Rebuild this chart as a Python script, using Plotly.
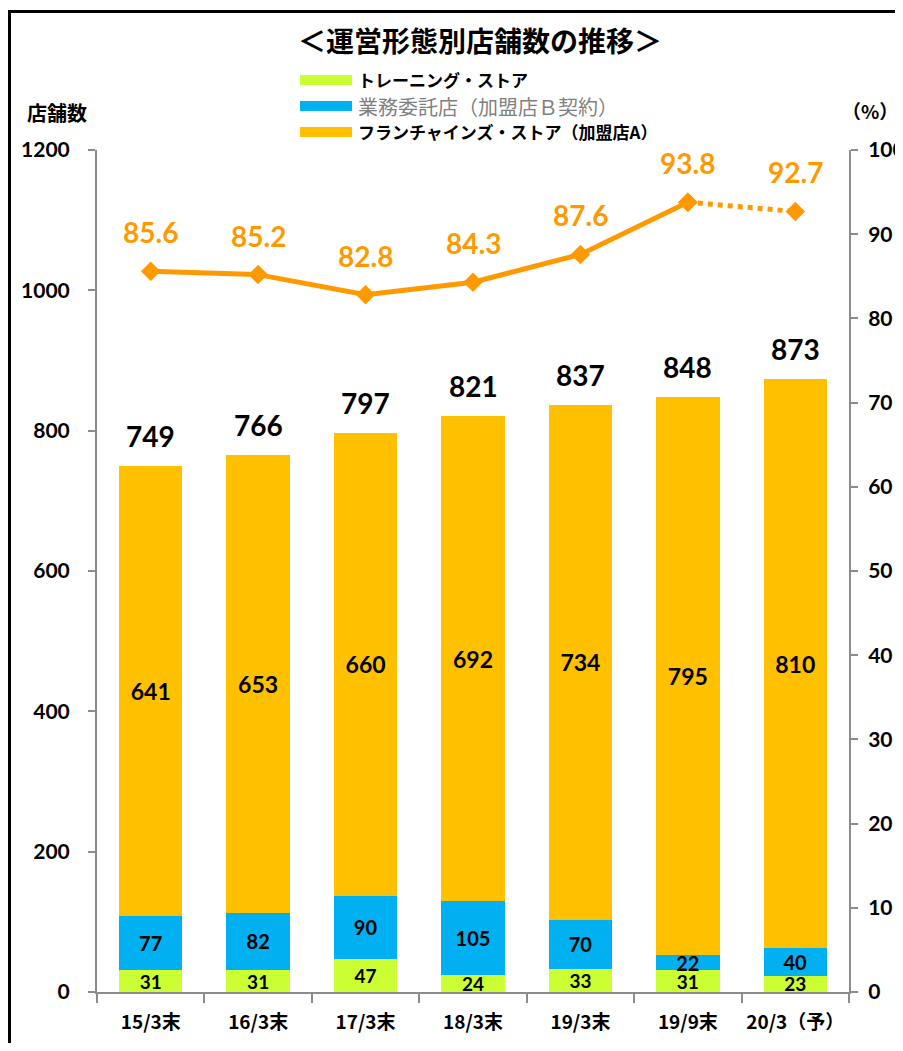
import plotly.graph_objects as go

categories = ["15/3末", "16/3末", "17/3末", "18/3末", "19/3末", "19/9末", "20/3（予）"]
training = [31, 31, 47, 24, 33, 31, 23]
consign = [77, 82, 90, 105, 70, 22, 40]
franchise = [641, 653, 660, 692, 734, 795, 810]
totals = [749, 766, 797, 821, 837, 848, 873]
ratio = [85.6, 85.2, 82.8, 84.3, 87.6, 93.8, 92.7]
ratio_labels = ["85.6", "85.2", "82.8", "84.3", "87.6", "93.8", "92.7"]
y_ticks = [0, 200, 400, 600, 800, 1000, 1200]
y2_ticks = [0, 10, 20, 30, 40, 50, 60, 70, 80, 90, 100]

OFF = 8  # page body margin
W, H = 895, 1035
ML, MT = 97 - OFF, 150 - OFF
MR = W - (849 - OFF)
MB = H - (992 - OFF)
PW, PH = W - ML - MR, H - MT - MB

def px(x):
    return (x - OFF - ML) / PW

def py(y):
    return (H - MB - (y - OFF)) / PH

JP = "Noto Sans CJK JP"
NUM = "Lato"
GREEN, BLUE, GOLD, ORANGE = "#CCFF33", "#00B0F0", "#FFC000", "#FF9900"

fig = go.Figure()
for name, vals, col, fs in [("トレーニング・ストア", training, GREEN, 19),
                            ("業務委託店（加盟店Ｂ契約）", consign, BLUE, 20),
                            ("フランチャインズ・ストア（加盟店A）", franchise, GOLD, 23)]:
    fig.add_trace(go.Bar(
        x=categories, y=vals, name=name, marker=dict(color=col, line=dict(width=0)),
        text=[str(v) for v in vals], textposition="inside", insidetextanchor="middle",
        constraintext="none", textangle=0,
        textfont=dict(family=NUM, size=fs, color="black", weight="bold"),
        showlegend=False, yaxis="y"))

# ratio line: solid part and dotted forecast part
fig.add_trace(go.Scatter(
    x=categories[:6], y=ratio[:6], mode="lines+markers", yaxis="y2",
    line=dict(color=ORANGE, width=5),
    marker=dict(symbol="diamond", size=15, color=ORANGE), showlegend=False))
fig.add_trace(go.Scatter(
    x=categories[5:], y=ratio[5:], mode="lines+markers", yaxis="y2",
    line=dict(color=ORANGE, width=5, dash="dot"),
    marker=dict(symbol="diamond", size=15, color=ORANGE), showlegend=False))

ann = []
for c, t in zip(categories, totals):
    ann.append(dict(x=c, y=t, xref="x", yref="y", text=str(t), showarrow=False,
                    yshift=30, font=dict(family=NUM, size=28, color="black", weight="bold")))
for c, r, lab in zip(categories, ratio, ratio_labels):
    ann.append(dict(x=c, y=r, xref="x", yref="y2", text=lab, showarrow=False,
                    yshift=39, font=dict(family=NUM, size=28, color=ORANGE, weight="bold")))

# axis titles
ann.append(dict(x=px(57), y=py(113), xref="paper", yref="paper", text="店舗数",
                xanchor="center", yanchor="middle",
                showarrow=False, font=dict(family=JP, size=20, color="black", weight="bold")))
ann.append(dict(x=px(870), y=py(110), xref="paper", yref="paper", text="（%）",
                xanchor="center", yanchor="middle",
                showarrow=False, font=dict(family=JP, size=19, color="black", weight="bold")))

# manual legend
shapes = []
leg = [("トレーニング・ストア", GREEN, 80, "black", 17, "bold"),
       ("業務委託店（加盟店Ｂ契約）", BLUE, 106, "#7F7F7F", 20, "normal"),
       ("フランチャインズ・ストア（加盟店A）", GOLD, 132, "black", 17, "bold")]
for name, col, yc, tc, fs, fw in leg:
    shapes.append(dict(type="rect", xref="paper", yref="paper",
                       x0=px(300), x1=px(352), y0=py(yc + 5), y1=py(yc - 5),
                       fillcolor=col, line=dict(width=0)))
    ann.append(dict(x=px(356), y=py(yc), xref="paper", yref="paper", text=name,
                    xanchor="left", yanchor="middle", showarrow=False,
                    font=dict(family=JP, size=fs, color=tc, weight=fw)))

# outer border
shapes.append(dict(type="rect", xref="paper", yref="paper",
                   x0=px(9.5), x1=px(930), y0=py(1080), y1=py(11.5),
                   line=dict(color="black", width=3), fillcolor="rgba(0,0,0,0)"))

fig.update_layout(
    width=W, height=H, barmode="stack", bargap=0.41,
    margin=dict(l=ML, r=MR, t=MT, b=MB, autoexpand=False),
    paper_bgcolor="white", plot_bgcolor="white",
    title=dict(text="＜運営形態別店舗数の推移＞", x=(480 - OFF) / W, xanchor="center",
               y=1 - (42 - OFF) / H, yanchor="middle",
               font=dict(family=JP, size=28, color="black", weight="bold")),
    xaxis=dict(type="category", showline=True, linecolor="#8C8C8C", linewidth=2,
               ticks="outside", tickson="boundaries", ticklen=9, tickcolor="#8C8C8C",
               tickwidth=2, showgrid=False, ticklabelstandoff=12, tickangle=0,
               automargin=False,
               tickfont=dict(family=JP, size=19, color="black", weight="bold")),
    yaxis=dict(range=[0, 1200], tickvals=y_ticks, showline=True, linecolor="#8C8C8C",
               linewidth=2, ticks="outside", ticklen=7, tickcolor="#8C8C8C", tickwidth=2,
               showgrid=False, zeroline=False, ticklabelstandoff=14, automargin=False,
               tickfont=dict(family=NUM, size=21, color="black", weight="bold")),
    yaxis2=dict(range=[0, 100], tickvals=y2_ticks, overlaying="y", side="right",
                showline=True, linecolor="#8C8C8C", linewidth=2, ticks="outside",
                ticklen=7, tickcolor="#8C8C8C", tickwidth=2, showgrid=False,
                zeroline=False, ticklabelstandoff=6, automargin=False,
                tickfont=dict(family=NUM, size=21, color="black", weight="bold")),
    annotations=ann, shapes=shapes,
)

fig.write_html("out.html")
